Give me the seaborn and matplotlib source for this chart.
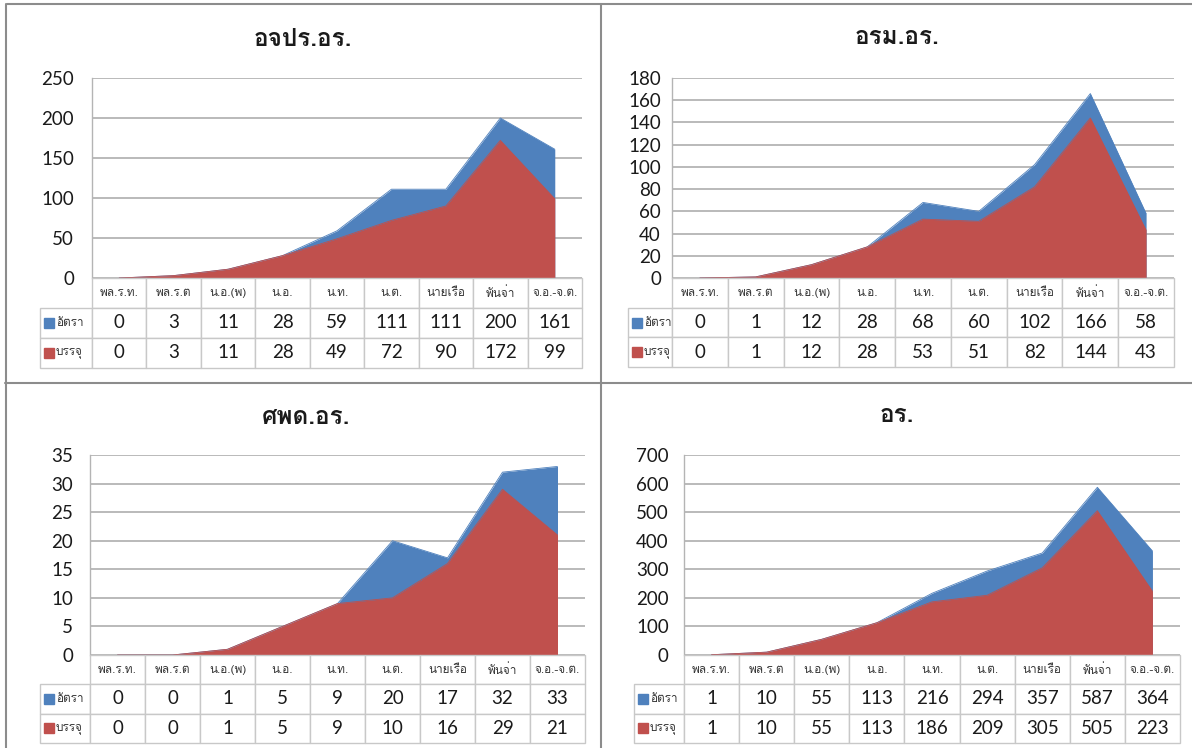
import matplotlib
matplotlib.use("Agg")
import matplotlib.pyplot as plt
from matplotlib import font_manager
from matplotlib.ft2font import FT2Font
from matplotlib.patches import Rectangle
from matplotlib.lines import Line2D
import seaborn as sns
import pandas as pd

# ---------------- data ----------------
categories = ["พล.ร.ท.", "พล.ร.ต", "น.อ.(พ)", "น.อ.", "น.ท.", "น.ต.", "นายเรือ", "พันจ่า", "จ.อ.-จ.ต."]
series_names = ["อัตรา", "บรรจุ"]
titles = ["อจปร.อร.", "อรม.อร.", "ศพด.อร.", "อร."]

rate_ajpr = [0, 3, 11, 28, 59, 111, 111, 200, 161]
fill_ajpr = [0, 3, 11, 28, 49, 72, 90, 172, 99]
rate_orm = [0, 1, 12, 28, 68, 60, 102, 166, 58]
fill_orm = [0, 1, 12, 28, 53, 51, 82, 144, 43]
rate_spd = [0, 0, 1, 5, 9, 20, 17, 32, 33]
fill_spd = [0, 0, 1, 5, 9, 10, 16, 29, 21]
rate_or = [1, 10, 55, 113, 216, 294, 357, 587, 364]
fill_or = [1, 10, 55, 113, 186, 209, 305, 505, 223]

y_max = [250, 180, 35, 700]
y_step = [50, 20, 5, 100]

# ---------------- style ----------------
BLUE = "#4F81BD"
RED = "#C0504D"
GRID = "#B4B4B4"
CELL_EDGE = "#C8C8C8"
FRAME = "#8C8C8C"

sns.set_theme(style="white")


def find_thai_fonts():
    names = []
    for f in font_manager.fontManager.ttflist:
        try:
            cmap = FT2Font(f.fname).get_charmap()
        except Exception:
            continue
        if all(ord(c) in cmap for c in "อรจปศพดัตบุเ่้"):
            if f.name not in names:
                names.append(f.name)
    return names


thai = find_thai_fonts()
THAI_FAMILY = thai[:1] + ["DejaVu Sans"]
NUM_FAMILY = ["Lato", "DejaVu Sans"]
plt.rcParams["font.family"] = THAI_FAMILY

W, H = 1192, 748
fig = plt.figure(figsize=(W / 100, H / 100), dpi=100)
fig.patch.set_facecolor("white")

# panel layouts in pixels: plot left/right, top gridline y, zero y, legend column left,
# table bottom, title centre x, title y, y label pad
layouts = [
    dict(l=92, r=582, top=78, zero=278, leg=40, tb=368, tx=303, ty=40, pad=13),
    dict(l=672, r=1174, top=78, zero=278, leg=628, tb=367, tx=897, ty=37, pad=8),
    dict(l=90, r=585, top=455, zero=655, leg=40, tb=743, tx=306, ty=417, pad=12),
    dict(l=684, r=1180, top=455, zero=655, leg=634, tb=743, tx=897, ty=415, pad=11),
]
rates = [rate_ajpr, rate_orm, rate_spd, rate_or]
fills = [fill_ajpr, fill_orm, fill_spd, fill_or]


def fx(px):
    return px / W


def fy(py):
    return 1 - py / H


for i, lay in enumerate(layouts):
    rate = rates[i]
    fill = fills[i]
    df = pd.DataFrame({"pos": list(range(len(categories))), "rate": rate, "fill": fill})

    ax = fig.add_axes([fx(lay["l"]), fy(lay["zero"]), (lay["r"] - lay["l"]) / W,
                       (lay["zero"] - lay["top"]) / H])
    ax.fill_between(df["pos"], df["rate"], color=BLUE, lw=0, zorder=2)
    sns.lineplot(data=df, x="pos", y="rate", ax=ax, color=BLUE, lw=0.6, zorder=2)
    ax.fill_between(df["pos"], df["fill"], color=RED, lw=0, zorder=3)
    sns.lineplot(data=df, x="pos", y="fill", ax=ax, color=RED, lw=0.6, zorder=3)

    ax.set_xlim(-0.5, len(categories) - 0.5)
    ax.set_ylim(0, y_max[i])
    ax.set_yticks(list(range(0, y_max[i] + 1, y_step[i])))
    ax.set_xticks([])
    ax.set_xlabel("")
    ax.set_ylabel("")
    ax.grid(axis="y", color=GRID, lw=1.3, zorder=0)
    ax.set_axisbelow(True)
    for s in ["top", "right", "bottom"]:
        ax.spines[s].set_visible(False)
    ax.spines["left"].set_color(GRID)
    ax.spines["left"].set_linewidth(1.0)
    ax.tick_params(axis="y", length=0, pad=lay["pad"], labelsize=13.5, labelcolor="#1a1a1a")
    for t in ax.get_yticklabels():
        t.set_fontfamily(NUM_FAMILY)

    # title
    fig.text(fx(lay["tx"]), fy(lay["ty"]), titles[i], ha="center", va="center",
             fontsize=17.5, fontweight="bold", family=THAI_FAMILY, color="#1a1a1a")

    # data table (first column holds the legend keys)
    total_w = lay["r"] - lay["leg"]
    tax = fig.add_axes([fx(lay["leg"]), fy(lay["tb"]), total_w / W, (lay["tb"] - lay["zero"]) / H])
    tax.set_xlim(0, 1)
    tax.set_ylim(0, 1)
    tax.axis("off")
    rl_frac = (lay["l"] - lay["leg"]) / total_w
    col_frac = (lay["r"] - lay["l"]) / total_w / len(categories)
    cell_text = [[""] + [str(v) for v in rate], [""] + [str(v) for v in fill]]
    tab = tax.table(cellText=cell_text, colLabels=[""] + categories,
                    colWidths=[rl_frac] + [col_frac] * len(categories),
                    cellLoc="center", bbox=[0, 0, 1, 1])
    tab.auto_set_font_size(False)
    for (r, c), cell in tab.get_celld().items():
        cell.set_edgecolor(CELL_EDGE)
        cell.set_linewidth(1.0)
        if r == 0 and c == 0:
            cell.set_visible(False)
            continue
        txt = cell.get_text()
        if r == 0:
            txt.set_fontsize(8.5)
            txt.set_fontfamily(THAI_FAMILY)
            txt.set_color("#333333")
        else:
            txt.set_fontsize(13.5)
            txt.set_fontfamily(NUM_FAMILY)
            txt.set_color("#1a1a1a")

    # legend keys inside first-column cells
    row_h = 1 / 3
    for k, (name, col) in enumerate(zip(series_names, [BLUE, RED])):
        yc = 1 - row_h * (k + 1.5)
        sq_w = 10 / total_w
        sq_h = 10 / (lay["tb"] - lay["zero"])
        tax.add_patch(Rectangle((4 / total_w, yc - sq_h / 2), sq_w, sq_h, color=col,
                                transform=tax.transAxes, clip_on=False, zorder=5))
        tax.text(16 / total_w, yc, name, ha="left", va="center", fontsize=8.5,
                 family=THAI_FAMILY, color="#333333", transform=tax.transAxes, zorder=5)

# panel frames
for (x0, y0, x1, y1) in [(7, 4, 1192, 4), (6, 4, 6, 748), (601, 4, 601, 748), (5, 383, 1192, 383)]:
    fig.add_artist(Line2D([fx(x0), fx(x1)], [fy(y0), fy(y1)], color=FRAME, lw=1.5,
                          transform=fig.transFigure))

fig.savefig("out.png", dpi=100, facecolor="white")
